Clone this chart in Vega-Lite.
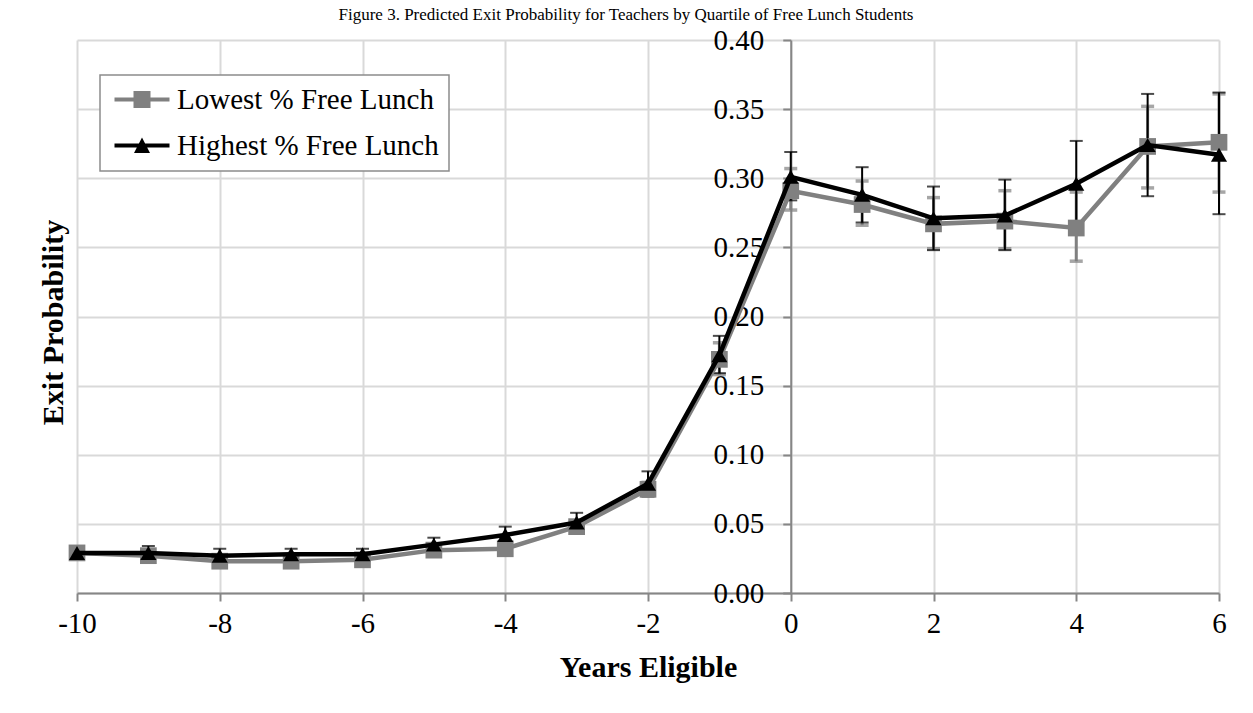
{
  "$schema": "https://vega.github.io/schema/vega-lite/v6.json",
  "width": 1142,
  "height": 553,
  "autosize": {"type": "none"},
  "padding": {"left": 77, "top": 40, "right": 34, "bottom": 120},
  "background": "white",
  "title": {
    "text": "Figure 3. Predicted Exit Probability for Teachers by Quartile of Free Lunch Students",
    "fontSize": 17, "font": "Liberation Serif", "fontWeight": "normal", "color": "black",
    "anchor": "middle", "frame": "group", "dx": -22, "dy": 28, "offset": 17, "baseline": "alphabetic"
  },
  "config": {
    "view": {"stroke": null},
    "font": "Liberation Serif",
    "axis": {
      "labelFont": "Liberation Serif", "titleFont": "Liberation Serif",
      "labelColor": "black", "titleColor": "black",
      "gridColor": "#d9d9d9", "gridWidth": 2,
      "domainColor": "#868686", "domainWidth": 2,
      "tickColor": "#868686", "tickWidth": 2, "tickSize": 8
    }
  },
  "data": {"values": [
    {"group": "Lowest % Free Lunch", "x": -10, "y": 0.029, "lo": 0.026, "hi": 0.032},
    {"group": "Lowest % Free Lunch", "x": -9, "y": 0.027, "lo": 0.024, "hi": 0.030},
    {"group": "Lowest % Free Lunch", "x": -8, "y": 0.023, "lo": 0.020, "hi": 0.026},
    {"group": "Lowest % Free Lunch", "x": -7, "y": 0.023, "lo": 0.020, "hi": 0.026},
    {"group": "Lowest % Free Lunch", "x": -6, "y": 0.024, "lo": 0.021, "hi": 0.027},
    {"group": "Lowest % Free Lunch", "x": -5, "y": 0.031, "lo": 0.027, "hi": 0.035},
    {"group": "Lowest % Free Lunch", "x": -4, "y": 0.032, "lo": 0.028, "hi": 0.036},
    {"group": "Lowest % Free Lunch", "x": -3, "y": 0.048, "lo": 0.044, "hi": 0.052},
    {"group": "Lowest % Free Lunch", "x": -2, "y": 0.075, "lo": 0.070, "hi": 0.080},
    {"group": "Lowest % Free Lunch", "x": -1, "y": 0.169, "lo": 0.158, "hi": 0.181},
    {"group": "Lowest % Free Lunch", "x": 0, "y": 0.291, "lo": 0.277, "hi": 0.307},
    {"group": "Lowest % Free Lunch", "x": 1, "y": 0.281, "lo": 0.266, "hi": 0.298},
    {"group": "Lowest % Free Lunch", "x": 2, "y": 0.267, "lo": 0.249, "hi": 0.286},
    {"group": "Lowest % Free Lunch", "x": 3, "y": 0.269, "lo": 0.249, "hi": 0.291},
    {"group": "Lowest % Free Lunch", "x": 4, "y": 0.264, "lo": 0.240, "hi": 0.290},
    {"group": "Lowest % Free Lunch", "x": 5, "y": 0.323, "lo": 0.293, "hi": 0.352},
    {"group": "Lowest % Free Lunch", "x": 6, "y": 0.326, "lo": 0.290, "hi": 0.361},
    {"group": "Highest % Free Lunch", "x": -10, "y": 0.029, "lo": 0.026, "hi": 0.033},
    {"group": "Highest % Free Lunch", "x": -9, "y": 0.029, "lo": 0.025, "hi": 0.034},
    {"group": "Highest % Free Lunch", "x": -8, "y": 0.027, "lo": 0.023, "hi": 0.032},
    {"group": "Highest % Free Lunch", "x": -7, "y": 0.028, "lo": 0.023, "hi": 0.032},
    {"group": "Highest % Free Lunch", "x": -6, "y": 0.028, "lo": 0.023, "hi": 0.032},
    {"group": "Highest % Free Lunch", "x": -5, "y": 0.035, "lo": 0.030, "hi": 0.040},
    {"group": "Highest % Free Lunch", "x": -4, "y": 0.042, "lo": 0.036, "hi": 0.048},
    {"group": "Highest % Free Lunch", "x": -3, "y": 0.051, "lo": 0.044, "hi": 0.058},
    {"group": "Highest % Free Lunch", "x": -2, "y": 0.079, "lo": 0.070, "hi": 0.088},
    {"group": "Highest % Free Lunch", "x": -1, "y": 0.172, "lo": 0.159, "hi": 0.186},
    {"group": "Highest % Free Lunch", "x": 0, "y": 0.301, "lo": 0.284, "hi": 0.319},
    {"group": "Highest % Free Lunch", "x": 1, "y": 0.288, "lo": 0.268, "hi": 0.308},
    {"group": "Highest % Free Lunch", "x": 2, "y": 0.271, "lo": 0.248, "hi": 0.294},
    {"group": "Highest % Free Lunch", "x": 3, "y": 0.273, "lo": 0.248, "hi": 0.299},
    {"group": "Highest % Free Lunch", "x": 4, "y": 0.296, "lo": 0.264, "hi": 0.327},
    {"group": "Highest % Free Lunch", "x": 5, "y": 0.324, "lo": 0.287, "hi": 0.361},
    {"group": "Highest % Free Lunch", "x": 6, "y": 0.317, "lo": 0.274, "hi": 0.362}
  ]},
  "encoding": {
    "x": {
      "field": "x", "type": "quantitative", "title": "Years Eligible",
      "scale": {"domain": [-10, 6], "nice": false, "zero": false},
      "axis": {
        "values": [-10, -8, -6, -4, -2, 0, 2, 4, 6],
        "labelExpr": "replace(datum.label, '\u2212', '-')",
        "title": "Years Eligible", "titleFontSize": 30, "titleFontWeight": "bold",
        "titlePadding": 14, "labelFontSize": 29, "labelPadding": 8,
        "labelFlush": false, "grid": true
      }
    }
  },
  "layer": [
    {
      "transform": [{"filter": "datum.group === 'Lowest % Free Lunch'"}],
      "mark": {"type": "errorbar", "color": "#808080", "ticks": {"size": 13, "thickness": 3.5}, "rule": {"strokeWidth": 3}},
      "encoding": {
        "y": {"field": "lo", "type": "quantitative", "title": "Exit Probability", "scale": {"domain": [0, 0.4], "nice": false},
          "axis": {
            "values": [0, 0.05, 0.1, 0.15, 0.2, 0.25, 0.3, 0.35, 0.4], "format": ".2f",
            "offset": -713.75, "grid": true,
            "title": "Exit Probability", "titleFontSize": 30, "titleFontWeight": "bold",
            "titleX": -737, "titleY": 282, "titleAngle": -90, "titleAlign": "center", "titleBaseline": "middle",
            "labelFontSize": 29, "labelPadding": 19
          }},
        "y2": {"field": "hi"}
      }
    },
    {
      "transform": [{"filter": "datum.group === 'Highest % Free Lunch'"}],
      "mark": {"type": "errorbar", "color": "#000000", "ticks": {"size": 13, "thickness": 2}, "rule": {"strokeWidth": 2}},
      "encoding": {
        "y": {"field": "lo", "type": "quantitative", "title": "Exit Probability"},
        "y2": {"field": "hi"}
      }
    },
    {
      "transform": [{"filter": "datum.group === 'Lowest % Free Lunch'"}],
      "mark": {"type": "line", "strokeWidth": 4.5},
      "encoding": {
        "y": {"field": "y", "type": "quantitative", "title": "Exit Probability"},
        "color": {
          "field": "group", "type": "nominal",
          "scale": {"domain": ["Lowest % Free Lunch", "Highest % Free Lunch"], "range": ["#808080", "#000000"]},
          "legend": {
            "title": null, "orient": "none", "legendX": 23, "legendY": 35,
            "padding": 10, "strokeColor": "#8c8c8c", "fillColor": "white",
            "labelFont": "Liberation Serif", "labelFontSize": 29, "labelColor": "black", "labelLimit": 500,
            "symbolSize": 400, "labelOffset": 38, "rowPadding": 16,
            "encode": {
              "legend": {"update": {"strokeWidth": {"value": 1.5}}},
              "symbols": {
                "update": {
                  "shape": {"signal": "datum.value === 'Lowest % Free Lunch' ? 'M-1,-0.2H4.5V0.2H-1Z M0.9,-0.85H2.6V0.85H0.9Z' : 'M-1,-0.2H4.5V0.2H-1Z M1.75,-0.8L2.55,0.75H0.95Z'"},
                  "fill": {"signal": "datum.value === 'Lowest % Free Lunch' ? '#808080' : '#000000'"},
                  "stroke": {"value": "transparent"},
                  "strokeWidth": {"value": 0},
                  "opacity": {"value": 1}
                }
              }
            }
          }
        }
      }
    },
    {
      "transform": [{"filter": "datum.group === 'Lowest % Free Lunch'"}],
      "mark": {"type": "point", "shape": "square", "filled": true, "size": 280, "color": "#808080", "opacity": 1},
      "encoding": {"y": {"field": "y", "type": "quantitative", "title": "Exit Probability"}}
    },
    {
      "transform": [{"filter": "datum.group === 'Highest % Free Lunch'"}],
      "mark": {"type": "line", "strokeWidth": 4.5},
      "encoding": {
        "y": {"field": "y", "type": "quantitative", "title": "Exit Probability"},
        "color": {"field": "group", "type": "nominal"}
      }
    },
    {
      "transform": [{"filter": "datum.group === 'Highest % Free Lunch'"}],
      "mark": {"type": "point", "shape": "triangle-up", "filled": true, "size": 260, "color": "#000000", "opacity": 1},
      "encoding": {"y": {"field": "y", "type": "quantitative", "title": "Exit Probability"}}
    }
  ]
}
